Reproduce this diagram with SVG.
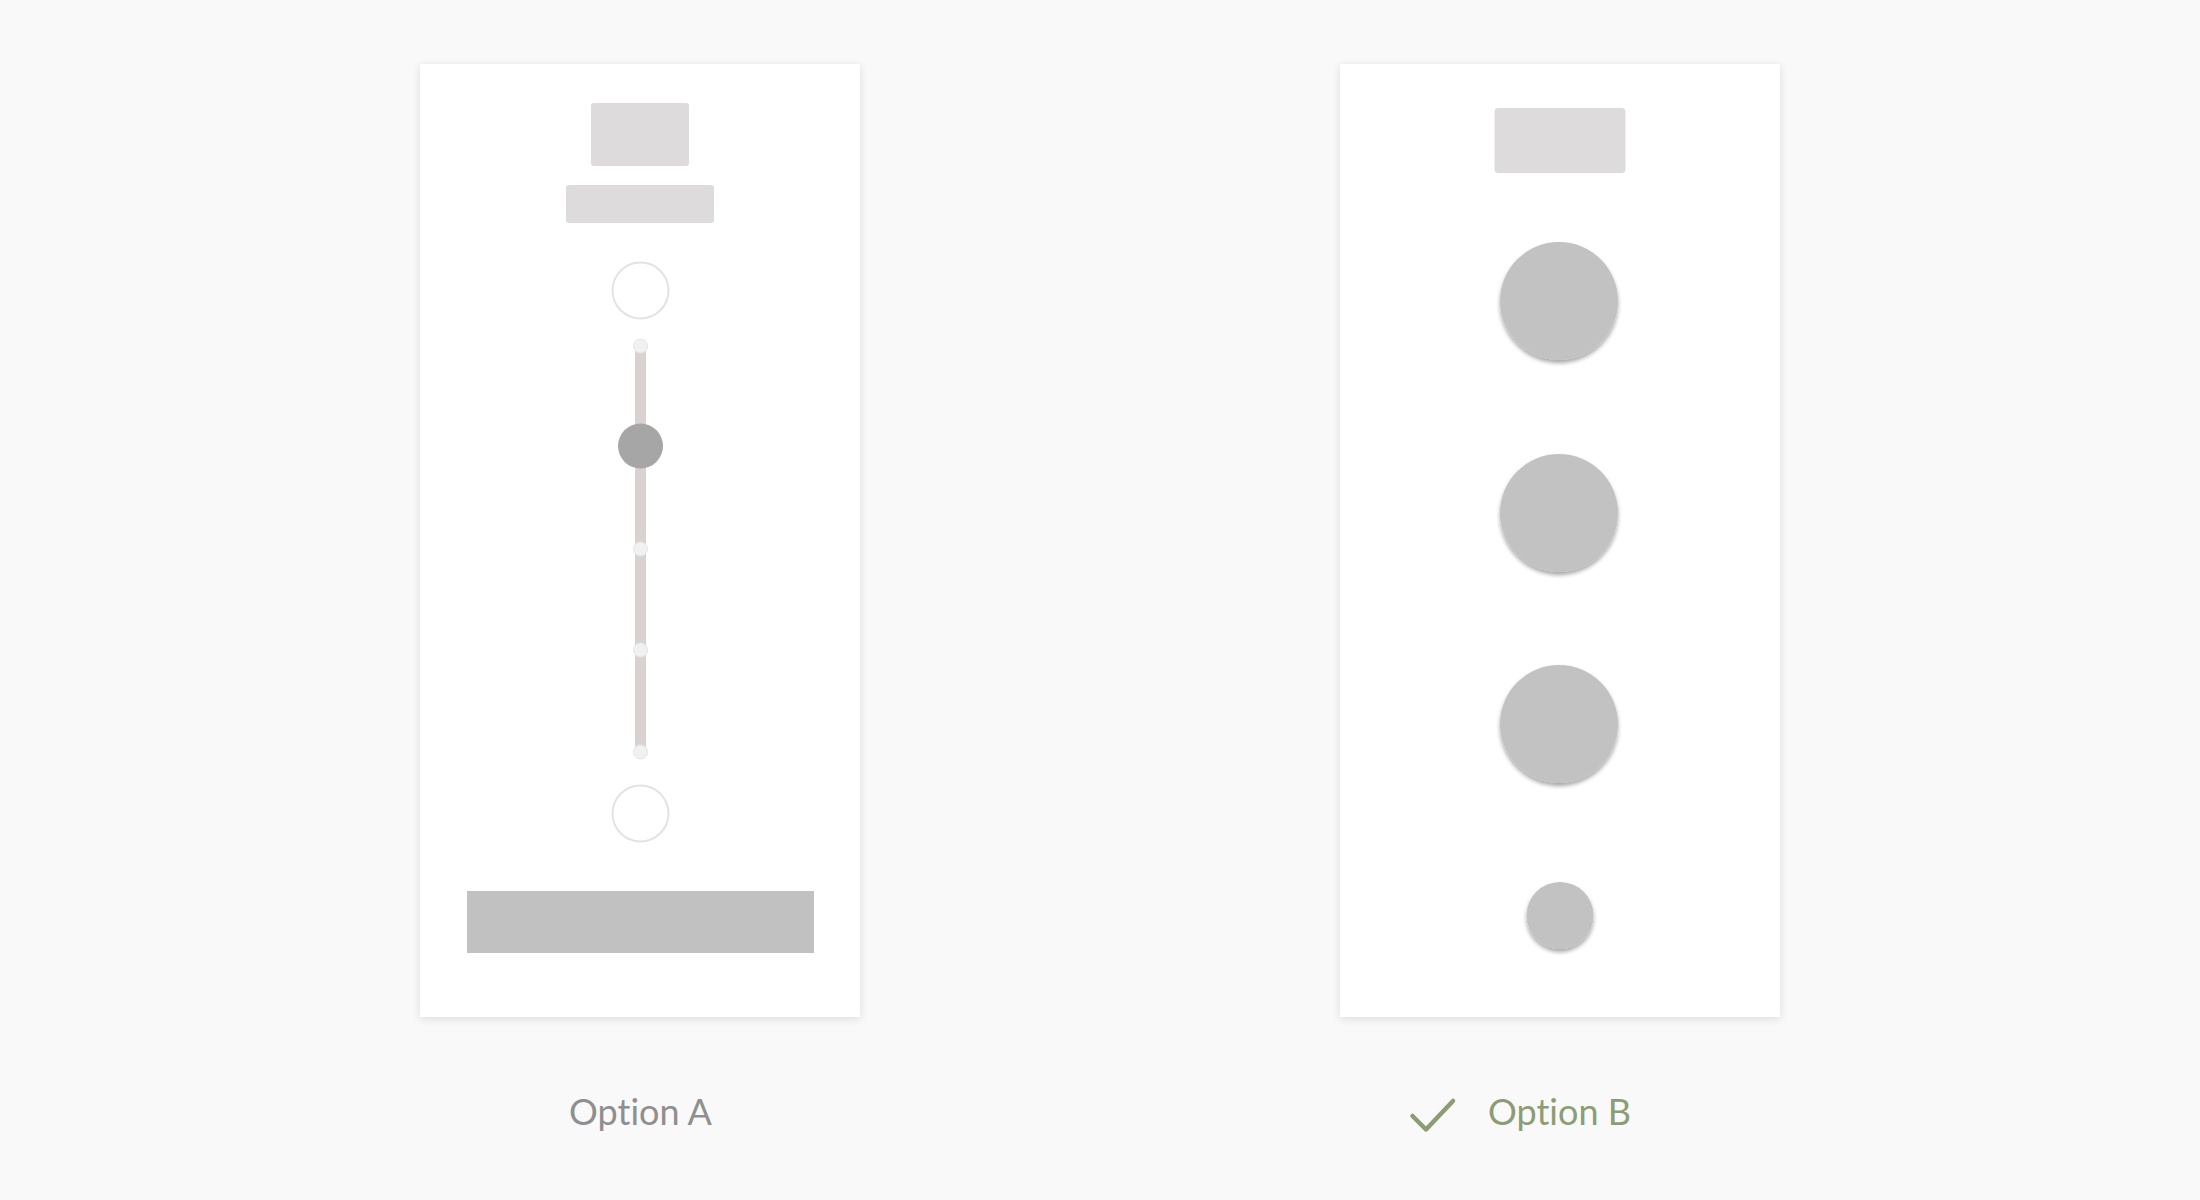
<svg xmlns="http://www.w3.org/2000/svg" width="2200" height="1200" viewBox="0 0 2200 1200">
<defs>
<filter id="panelShadow" x="-10%" y="-10%" width="120%" height="120%">
<feGaussianBlur in="SourceAlpha" stdDeviation="5"/>
<feOffset dy="2"/>
<feComponentTransfer><feFuncA type="linear" slope="0.12"/></feComponentTransfer>
<feMerge><feMergeNode/><feMergeNode in="SourceGraphic"/></feMerge>
</filter>
<filter id="btnShadow" x="-30%" y="-30%" width="160%" height="160%">
<feGaussianBlur in="SourceAlpha" stdDeviation="2"/>
<feOffset dy="2.5"/>
<feComponentTransfer><feFuncA type="linear" slope="0.35"/></feComponentTransfer>
<feMerge><feMergeNode/><feMergeNode in="SourceGraphic"/></feMerge>
</filter>
</defs>
<style>
.panel{fill:#ffffff;}
.block{fill:#dddbdc;}
.ring{fill:#ffffff;stroke:#e3e3e3;stroke-width:2;}
.track{fill:#d9d2d1;}
.tick{fill:#f1f1f1;stroke:#e6e6e6;stroke-width:1;}
.thumb{fill:#a6a6a6;}
.bar{fill:#c1c1c1;}
.btn{fill:#c2c2c2;}
.label{font-family:Lato,"Liberation Sans",sans-serif;font-size:36px;text-anchor:middle;font-variant-ligatures:none;font-feature-settings:"liga" 0;}
</style>
<rect x="0" y="0" width="2200" height="1200" fill="#f9f9f9"/>

<g id="panel-a">
<rect class="panel" x="420" y="64" width="440" height="953" filter="url(#panelShadow)"/>
<rect class="block" x="591" y="103" width="98" height="63" rx="3"/>
<rect class="block" x="566" y="185" width="148" height="38" rx="3"/>
<circle class="ring" cx="640.5" cy="290.5" r="28"/>
<rect class="track" x="635" y="346" width="11" height="406"/>
<circle class="tick" cx="640.5" cy="346" r="7"/>
<circle class="tick" cx="640.5" cy="549" r="7"/>
<circle class="tick" cx="640.5" cy="650" r="7"/>
<circle class="tick" cx="640.5" cy="752" r="7"/>
<circle class="thumb" cx="640.5" cy="446" r="22.5"/>
<circle class="ring" cx="640.5" cy="813.5" r="28"/>
<rect class="bar" x="467" y="891" width="347" height="62"/>
</g>

<g id="panel-b">
<rect class="panel" x="1340" y="64" width="440" height="953" filter="url(#panelShadow)"/>
<rect class="block" x="1494.5" y="108" width="131" height="65" rx="4"/>
<circle class="btn" cx="1559" cy="301" r="59" filter="url(#btnShadow)"/>
<circle class="btn" cx="1559" cy="513" r="59" filter="url(#btnShadow)"/>
<circle class="btn" cx="1559" cy="724" r="59" filter="url(#btnShadow)"/>
<circle class="btn" cx="1560" cy="915.5" r="33.5" filter="url(#btnShadow)"/>
</g>

<g id="label-a">
<text class="label" x="640.5" y="1125" fill="#8f8f8f">Option A</text>
</g>
<g id="label-b">
<path d="M1412.5 1116 L1426 1129.5 L1453 1101" fill="none" stroke="#8c9d75" stroke-width="4.5" stroke-linecap="round" stroke-linejoin="round"/>
<text class="label" x="1559.5" y="1125" fill="#8c9d75">Option B</text>
</g>
<g id="connectors"/>
</svg>
